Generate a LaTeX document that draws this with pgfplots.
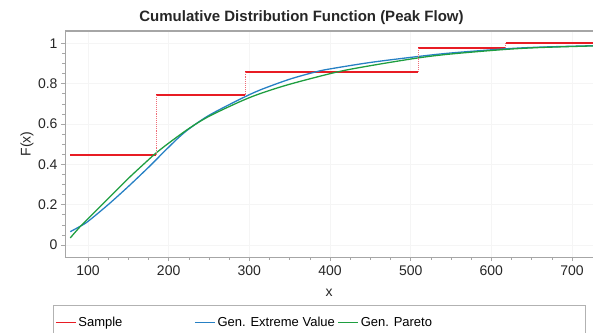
\documentclass[border=0pt]{standalone}
\usepackage{fontspec}
\setmainfont{Liberation Sans}
\usepackage{pgfplots}
\pgfplotsset{compat=1.18}
\definecolor{cred}{RGB}{232,28,36}
\definecolor{cblue}{RGB}{38,128,196}
\definecolor{cgreen}{RGB}{30,158,64}
\definecolor{cdot}{RGB}{238,110,120}
\begin{document}
\begin{tikzpicture}
\begin{axis}[
  at={(0,0)}, anchor=south west,
  scale only axis, width=528bp, height=226bp,
  xmin=71.5, xmax=726, ymin=-0.0595, ymax=1.061,
  xtick={100,200,...,700}, ytick={0,0.2,...,1},
  minor x tick num=3, minor y tick num=3,
  yticklabel style={/pgf/number format/fixed},
  /pgf/number format/assume math mode=true,
  tick label style={font=\fontsize{14bp}{16bp}\selectfont, text=black!85},
  label style={font=\fontsize{14bp}{16bp}\selectfont, text=black!85},
  axis x line*=bottom, axis y line*=left,
  axis line style={gray!70, line width=1pt, -},
  tick style={gray!70, line width=0.6pt},
  tick align=outside,
  major tick length=4bp, minor tick length=2.5bp,
  grid=major, grid style={gray!8, line width=0.5pt},
  xlabel={x}, ylabel={F(x)},
  xlabel style={at={(rel axis cs:0.5,0)}, anchor=north, yshift=-29bp},
  ylabel style={at={(rel axis cs:0,0.5)}, anchor=south, yshift=28bp},
  xticklabel style={yshift=-1bp},
  unbounded coords=jump,
  legend columns=3,
  legend cell align=left,
  legend style={at={(rel axis cs:-0.0227,-0.2155)}, anchor=north west,
    name=leg, draw=none, inner xsep=2bp, inner ysep=9bp, column sep=0pt,
    font=\fontsize{13bp}{15bp}\selectfont},
  clip=true,
]
% top border line
\draw[gray!70, line width=1.2pt] (rel axis cs:0,1) -- (rel axis cs:1,1);
% sample step function
\addplot[cred, line width=1.8pt,
  legend image code/.code={\draw[draw=cred, line width=1.2pt] (0bp,0bp) -- (20bp,0bp);}] coordinates {
  (78,0.446) (184.5,0.446) (184.5,nan)
  (184.5,0.742) (294.6,0.742) (294.6,nan)
  (294.6,0.859) (509.5,0.859) (509.5,nan)
  (509.5,0.978) (618,0.978) (618,nan)
  (618,1.0) (730,1.0)
};
\addlegendentry{\makebox[114bp][l]{Sample}}
% GEV
\addplot[cblue, line width=1.3pt, smooth,
  legend image code/.code={\draw[draw=cblue, line width=1.2pt] (0bp,0bp) -- (20bp,0bp);}] coordinates {
  (78,0.066) (90,0.092) (100,0.117) (125,0.200) (150,0.290) (175,0.385)
  (185,0.425) (200,0.485) (213,0.535) (226,0.578) (250,0.643) (288,0.722)
  (313,0.768) (350,0.822) (383,0.859) (400,0.873) (450,0.905) (510,0.935)
  (550,0.952) (615,0.972) (660,0.981) (726,0.988)
};
\addlegendentry{\makebox[118bp][l]{Gen. Extreme Value}}
% Gen Pareto
\addplot[cgreen, line width=1.3pt, smooth,
  legend image code/.code={\draw[draw=cgreen, line width=1.2pt] (0bp,0bp) -- (20bp,0bp);}] coordinates {
  (78,0.035) (90,0.090) (100,0.130) (125,0.230) (150,0.330) (177,0.430)
  (185,0.458) (200,0.505) (226,0.580) (250,0.638) (288,0.710) (313,0.750)
  (350,0.797) (408,0.857) (450,0.889) (510,0.928) (550,0.947) (615,0.969)
  (660,0.979) (726,0.987)
};
\addlegendentry{\makebox[220bp][l]{Gen. Pareto}}
% dotted jumps
\addplot[cdot, line width=0.9pt, densely dotted, forget plot] coordinates {
  (184.5,0.446) (184.5,0.742) (184.5,nan)
  (294.6,0.742) (294.6,0.859) (294.6,nan)
  (509.5,0.859) (509.5,0.978) (509.5,nan)
  (618,0.978) (618,1.0)
};
\end{axis}
\draw[gray!60, line width=0.8pt] (leg.north west) rectangle (leg.south east);
\node[font=\bfseries\fontsize{15bp}{17bp}\selectfont, text=black!85] at (236.5bp,239bp) {Cumulative Distribution Function (Peak Flow)};
\pgfresetboundingbox
\path[use as bounding box] (-65bp,-76bp) rectangle (528bp,257bp);
\end{tikzpicture}
\end{document}
